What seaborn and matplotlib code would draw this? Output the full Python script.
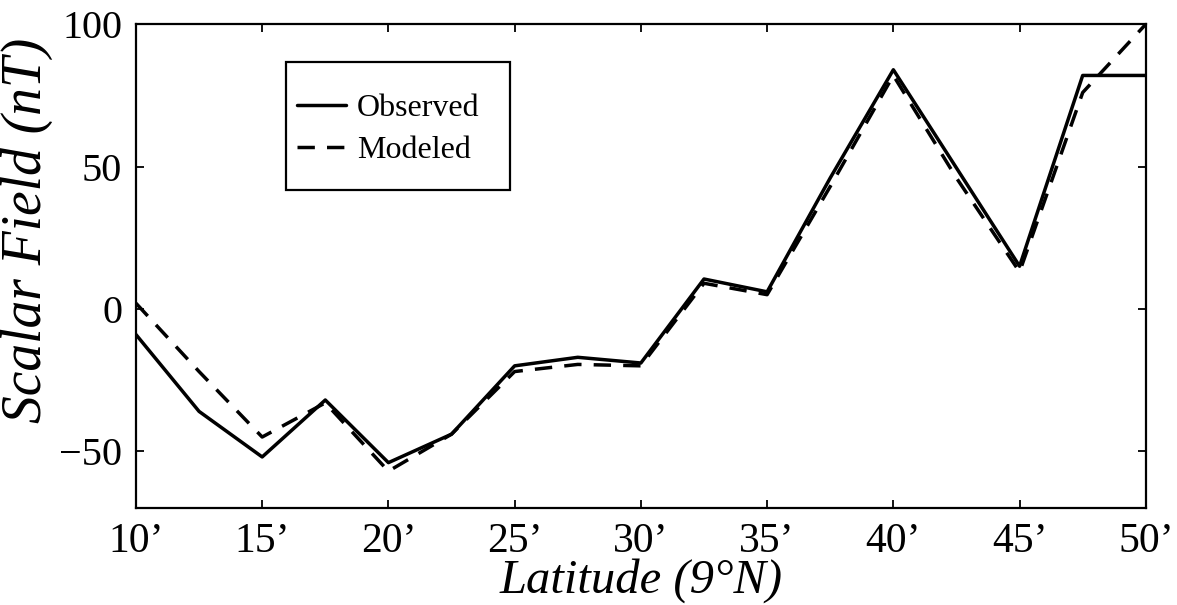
import matplotlib
matplotlib.use("Agg")
import matplotlib.pyplot as plt
from matplotlib.patches import Rectangle
import seaborn as sns
import pandas as pd

# Latitude in arc-minutes north of 9°N
latitude_min = [10, 12.5, 15, 17.5, 20, 22.5, 25, 27.5, 30, 32.5, 35, 37.5, 40, 42.5, 45, 47.5, 50]
observed_nT = [-9, -36, -52, -32, -54, -44, -20, -17, -19, 10.5, 6, 46, 84, 49.5, 15, 82, 82]
modeled_nT = [2, -22, -45, -33, -57, -44, -22, -19.5, -20, 9, 5, 43, 82, 46, 13, 76, 100]

x_ticks = [10, 15, 20, 25, 30, 35, 40, 45, 50]
x_tick_labels = [f"{t}\u2019" for t in x_ticks]
y_ticks = [-50, 0, 50, 100]
y_tick_labels = ["\u221250", "0", "50", "100"]

obs = pd.DataFrame({"lat": latitude_min, "field": observed_nT})
mod = pd.DataFrame({"lat": latitude_min, "field": modeled_nT})

sns.set_theme(style="white")
plt.rcParams["font.family"] = ["Liberation Serif", "DejaVu Serif"]
for key in ("text.color", "axes.labelcolor", "xtick.color", "ytick.color"):
    plt.rcParams[key] = "black"

fig = plt.figure(figsize=(11.77, 6.05), dpi=100)
ax = fig.add_axes([0.1155, 0.160, 0.858, 0.800])

sns.lineplot(data=obs, x="lat", y="field", ax=ax, color="black", lw=2.5,
             label="Observed", sort=False)
sns.lineplot(data=mod, x="lat", y="field", ax=ax, color="black", lw=2.5,
             linestyle=(0, (5, 3.5)), label="Modeled", sort=False)

ax.set_xlim(10, 50)
ax.set_ylim(-70, 100)
ax.set_xticks(x_ticks)
ax.set_xticklabels(x_tick_labels)
ax.set_yticks(y_ticks)
ax.set_yticklabels(y_tick_labels)

ax.tick_params(axis="both", which="major", direction="in", length=6, width=1.3,
               labelsize=29, top=True, right=True, bottom=True, left=True, pad=10)
ax.tick_params(axis="x", labelsize=30, pad=10)
for s in ax.spines.values():
    s.set_color("black")
    s.set_linewidth(1.6)

ax.set_xlabel("Latitude (9\u00b0N)", fontsize=35, style="italic")
ax.xaxis.set_label_coords(0.5, -0.103)
ax.set_ylabel("Scalar Field (nT)", fontsize=40, style="italic")
ax.yaxis.set_label_coords(-0.082, 0.575)

# Legend entries without their own frame; the box is drawn separately
leg = ax.legend(loc="upper left", bbox_to_anchor=(0.159, 0.856), fontsize=23,
                frameon=False, handlelength=1.56, handletextpad=0.34,
                borderpad=0, labelspacing=0.4, borderaxespad=0)
ax.add_patch(Rectangle((0.1485, 0.657), 0.2215, 0.2645, transform=ax.transAxes,
                       fill=False, edgecolor="black", lw=1.6, zorder=5))

fig.savefig("out.png", dpi=100, facecolor="white")
